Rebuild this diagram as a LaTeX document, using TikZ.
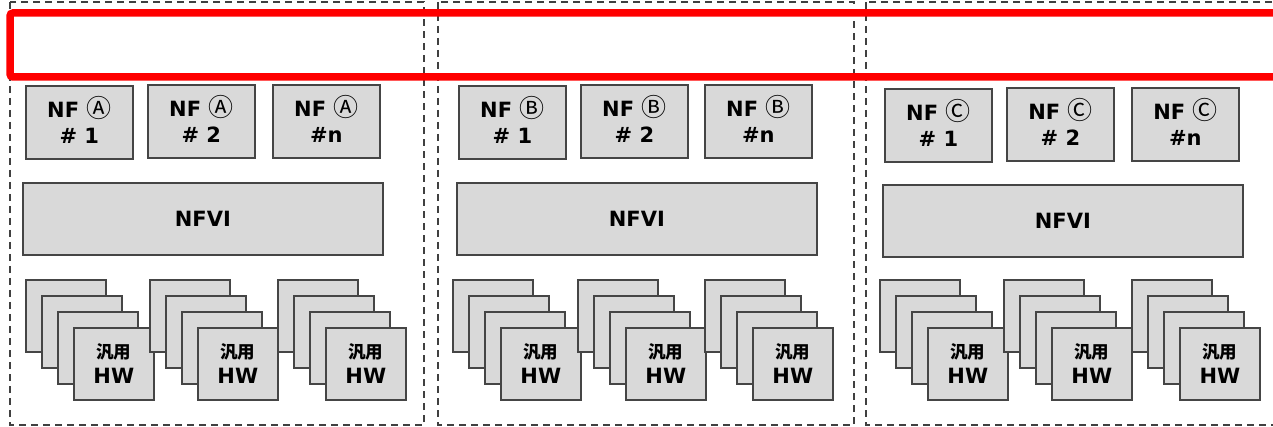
\documentclass[tikz,border=0pt]{standalone}
\usepackage{fontspec}
\setmainfont{DejaVu Sans}
\newfontfamily\cjk{Noto Sans CJK JP}
\definecolor{boxfill}{HTML}{D9D9D9}
\definecolor{boxline}{HTML}{454545}
\definecolor{zoneline}{HTML}{404040}
\definecolor{redline}{HTML}{FF0000}
\tikzset{
  box/.style={draw=boxline, line width=1.7pt, fill=boxfill, inner sep=0pt,
    anchor=north west, align=center, font=\fontsize{21}{26}\selectfont\bfseries},
  zone/.style={draw=zoneline, line width=1.7pt, dash pattern=on 7pt off 5pt},
  hwbox/.style={box, minimum width=80pt, minimum height=72pt},
  nfbox/.style={box, minimum width=107pt, minimum height=73pt},
  nfvibox/.style={box, minimum width=360pt, minimum height=72pt},
  redframe/.style={draw=redline, line width=7.5pt, rounded corners=3pt},
}
\newcommand\cl[1]{\smash{\cjk\mdseries\fontsize{25}{26}\selectfont #1}}
\newcommand\hwstack[3]{%
  \foreach \k in {0,1,2} \node[hwbox] (#1-\k) at (#2+16*\k,#3+16*\k) {};
  \node[hwbox] (#1-3) at (#2+48,#3+48) {{\cjk\bfseries\fontsize{17.5}{18}\selectfont 汎用}\\[-1pt]HW};
}
\begin{document}
\begin{tikzpicture}[x=1pt,y=-1pt]
\useasboundingbox (0,0) rectangle (1273,427);
\clip (0,0) rectangle (1273,427);
% zones
\draw[zone] (10,2) rectangle (424,425);
\draw[zone] (438,2) rectangle (854,425);
\draw[zone] (866,2) rectangle (1300,425);
% red frame
\draw[redframe] (10,13) rectangle (1300,77);
% NF boxes
\node[nfbox] (nfa1) at (25,85)  {NF \cl{Ⓐ}\\\# 1};
\node[nfbox] (nfa2) at (147,84) {NF \cl{Ⓐ}\\\# 2};
\node[nfbox] (nfan) at (272,84) {NF \cl{Ⓐ}\\\#n};
\node[nfbox] (nfb1) at (458,85) {NF \cl{Ⓑ}\\\# 1};
\node[nfbox] (nfb2) at (580,84) {NF \cl{Ⓑ}\\\# 2};
\node[nfbox] (nfbn) at (704,84) {NF \cl{Ⓑ}\\\#n};
\node[nfbox] (nfc1) at (884,88)  {NF \cl{Ⓒ}\\\# 1};
\node[nfbox] (nfc2) at (1006,87) {NF \cl{Ⓒ}\\\# 2};
\node[nfbox] (nfcn) at (1131,87) {NF \cl{Ⓒ}\\\#n};
% NFVI
\node[nfvibox] (nfvia) at (22,182) {NFVI};
\node[nfvibox] (nfvib) at (456,182) {NFVI};
\node[nfvibox] (nfvic) at (882,184) {NFVI};
% HW stacks
\hwstack{hwa1}{25}{279}
\hwstack{hwa2}{149}{279}
\hwstack{hwa3}{277}{279}
\hwstack{hwb1}{452}{279}
\hwstack{hwb2}{577}{279}
\hwstack{hwb3}{704}{279}
\hwstack{hwc1}{879}{279}
\hwstack{hwc2}{1003}{279}
\hwstack{hwc3}{1131}{279}
\end{tikzpicture}
\end{document}
